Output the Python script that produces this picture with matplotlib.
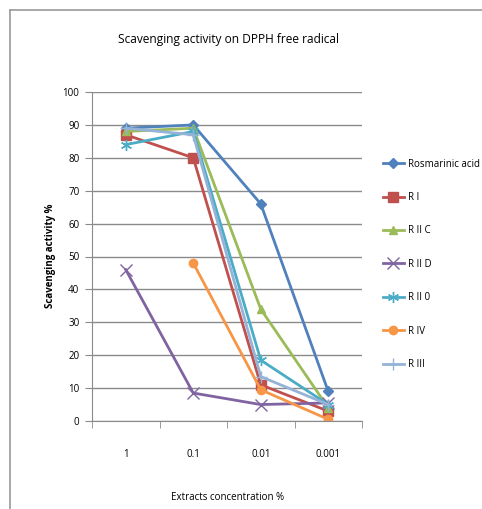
import matplotlib
matplotlib.use("Agg")
import matplotlib.pyplot as plt
import numpy as np
from matplotlib.lines import Line2D

categories = ["1", "0.1", "0.01", "0.001"]
series_names = ["Rosmarinic acid", "R I", "R II C", "R II D", "R II 0", "R IV", "R III"]
rosmarinic = [89, 90, 66, 9]
r_i = [87, 80, 11, 3]
r_ii_c = [88, 89, 34, 4]
r_ii_d = [46, 8.5, 5, 5.5]
r_ii_0 = [84, 88, 18.5, 5]
r_iv = [np.nan, 48, 9.5, 0.5]
r_iii = [89, 87, 13.5, 5]
yticks = list(range(0, 101, 10))

all_series = [rosmarinic, r_i, r_ii_c, r_ii_d, r_ii_0, r_iv, r_iii]
colors = ["#4F81BD", "#C0504D", "#9BBB59", "#8064A2", "#4BACC6", "#F79646", "#95B3D7"]
markers = ["D", "s", "^", "x", "*", "o", "+"]
msizes = [5, 7, 6, 8, 8, 6, 9]

plt.rcParams['font.family'] = ['Open Sans', 'DejaVu Sans']

fig = plt.figure(figsize=(4.82, 5.09), dpi=100)
# outer frame lines
fig.add_artist(Line2D([10/482, 10/482], [0, 1 - 10/509], transform=fig.transFigure, color="#9a9a9a", lw=1.2))
fig.add_artist(Line2D([10/482, 1], [1 - 10/509, 1 - 10/509], transform=fig.transFigure, color="#9a9a9a", lw=1.2))

ax = fig.add_axes([92/482, 1 - 421/509, 270/482, 329/509])
x = np.arange(len(categories))
for name, vals, c, m, ms in zip(series_names, all_series, colors, markers, msizes):
    mk = dict(marker=m, markersize=ms, markeredgecolor=c, markerfacecolor=c)
    if m in ("x", "+", "*"):
        mk["markeredgewidth"] = 1.0
        if m == "*":
            mk["marker"] = (6, 2, 0)
    ax.plot(x, vals, color=c, lw=2, label=name, **mk)

ax.set_xlim(-0.5, 3.5)
ax.set_ylim(0, 100)
ax.set_yticks(yticks)
ax.set_yticklabels([str(v) for v in yticks], fontsize=7)
ax.set_xticks(x)
ax.set_xticklabels(categories, fontsize=7)
ax.set_xticks(np.arange(-0.5, 4, 1), minor=True)
ax.tick_params(axis="x", which="major", length=0, pad=20)
ax.tick_params(axis="x", which="minor", length=5, color="#8a8a8a", direction="out")
ax.tick_params(axis="y", length=5, color="#8a8a8a", direction="out", pad=4)
ax.yaxis.grid(True, color="#8a8a8a", lw=1)
ax.set_axisbelow(True)
for s in ["top", "right"]:
    ax.spines[s].set_visible(False)
for s in ["left", "bottom"]:
    ax.spines[s].set_color("#8a8a8a")

fig.text(228/482, 1 - 40/509, "Scavenging activity on DPPH free radical", ha="center", va="center", fontsize=8.6)
fig.text(50/482, 1 - 256/509, "Scavenging activity %", rotation=90, ha="center", va="center", fontsize=7, fontweight="bold")
fig.text(228/482, 1 - 497/509, "Extracts concentration %", ha="center", va="center", fontsize=7)

ax.legend(loc="upper left", bbox_to_anchor=(374/482, 1 - 150/509), bbox_transform=fig.transFigure,
          frameon=False, fontsize=7, labelspacing=2.3, handlelength=2.2, handletextpad=0.4)

fig.savefig("out.png", dpi=100)
